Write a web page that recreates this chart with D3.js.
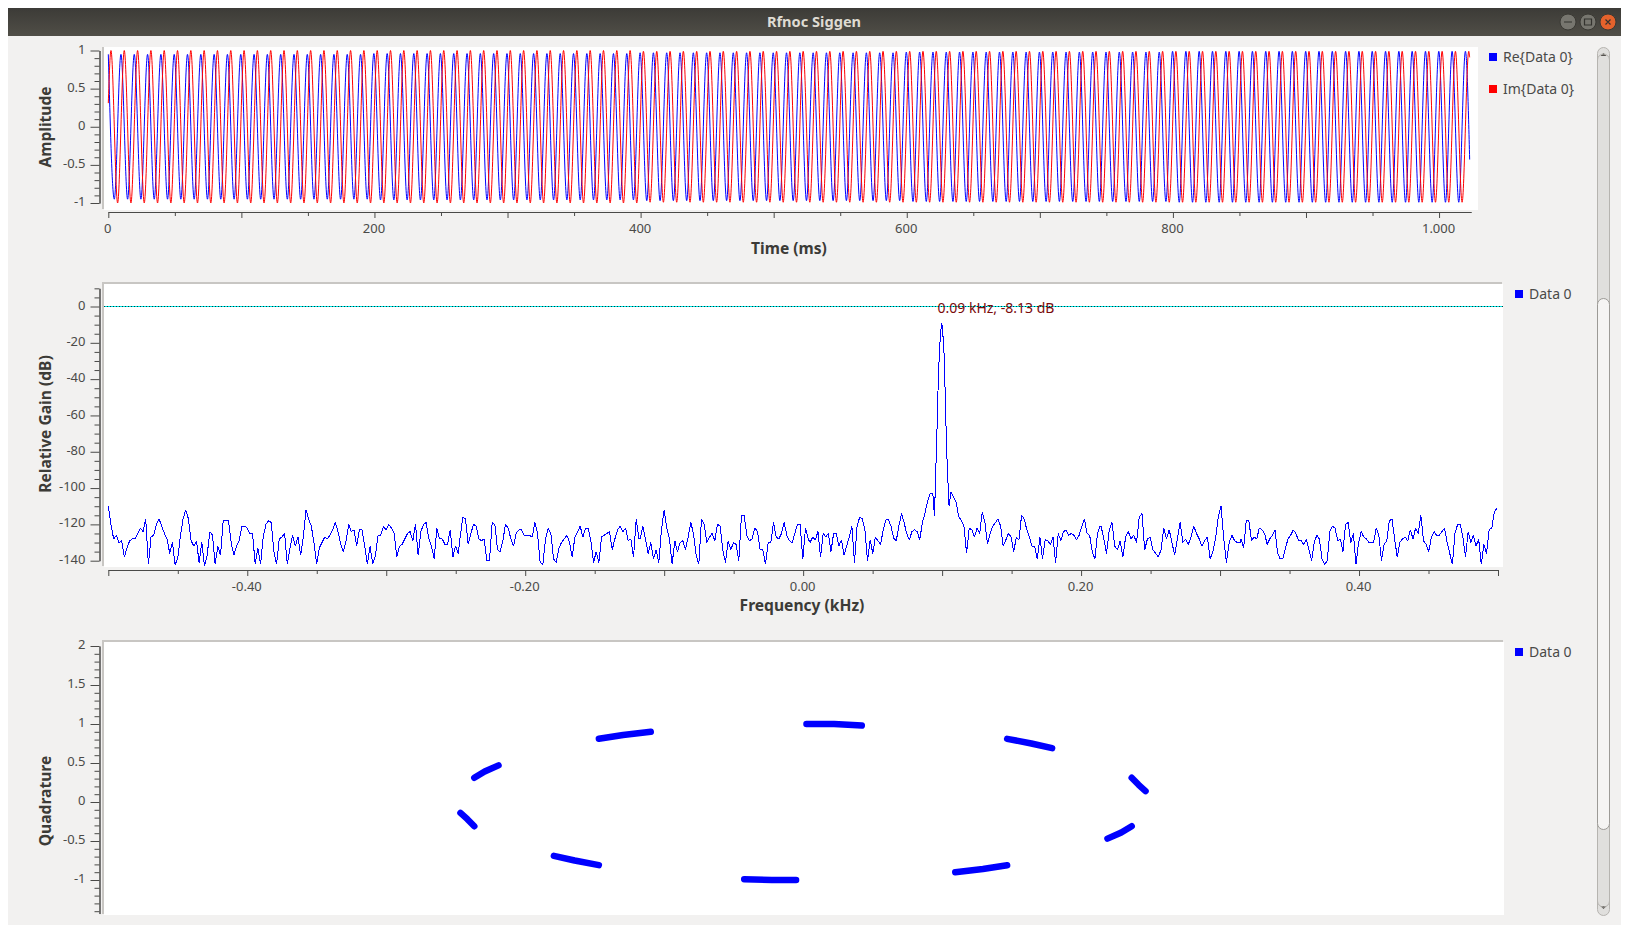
<!DOCTYPE html>
<html><head><meta charset="utf-8">
<script src="https://cdn.jsdelivr.net/npm/d3@7/dist/d3.min.js"></script>
<style>
html,body{margin:0;padding:0;background:#fff;overflow:hidden}
svg{display:block}
text{font-family:"Noto Sans",sans-serif}
.axis text{font-size:13px;fill:#4a4a48;font-family:"Noto Sans",sans-serif}
.axis line,.axis path{stroke:#4a4a48;stroke-width:1}
.title{font-size:15.6px;font-weight:700;fill:#3c3b37}
.leg{font-size:14px;fill:#4a4a48}
</style></head><body>
<script>
// ---- time plot: successive peak / trough values
const timeStepMs = 5.0015, reFirst = -0.5, imFirst = 2;
const reExtrema = [
.95,-.95,.95,-.95,.95,-.95,.95,-.95,.95,-.95,.95,-.95,.95,-.95,.95,-.95,.95,-.95,.95,-.95,.95,-.95,.95,-.95,.95,-.95,.95,-.95,.95,-.95,.95,-.95,.95,-.95,.95,-.95,.95,-.95,.95,-.95,
.96,-.96,.96,-.96,.96,-.96,.96,-.96,.96,-.96,.96,-.96,.96,-.96,.96,-.96,.96,-.96,.96,-.96,.96,-.96,.96,-.96,.96,-.96,.96,-.96,.96,-.96,.96,-.96,.96,-.96,.96,-.96,.96,-.96,.96,-.96,
.97,-.97,.97,-.97,.97,-.97,.97,-.97,.97,-.97,.97,-.97,.97,-.97,.97,-.97,.97,-.97,.97,-.97,.97,-.97,.97,-.97,.97,-.97,.97,-.97,.97,-.97,.97,-.97,.97,-.97,.97,-.97,.97,-.97,.97,-.97,
.98,-.98,.98,-.98,.98,-.98,.98,-.98,.98,-.98,.98,-.98,.98,-.98,.98,-.98,.98,-.98,.98,-.98,.98,-.98,.98,-.98,.98,-.98,.98,-.98,.98,-.98,.98,-.98,.98,-.98,.98,-.98,.98,-.98,.98,-.98,
.99,-.99,.99,-.99,.99,-.99,.99,-.99,.99,-.99,.99,-.99,.99,-.99,.99,-.99,.99,-.99,.99,-.99,.99,-.99,.99,-.99,.99,-.99,.99,-.99,.99,-.99,.99,-.99,.99,-.99,.99,-.99,.99,-.99,.99,-.99,
.99,-.99,.99,-.99,.99];
const imExtrema = [
1,-1,1,-1,1,-1,1,-1,1,-1,1,-1,1,-1,1,-1,1,-1,1,-1,1,-1,1,-1,1,-1,1,-1,1,-1,1,-1,1,-1,1,-1,1,-1,1,-1,
1,-1,1,-1,1,-1,1,-1,1,-1,1,-1,1,-1,1,-1,1,-1,1,-1,1,-1,1,-1,1,-1,1,-1,1,-1,1,-1,1,-1,1,-1,1,-1,1,-1,
.99,-.99,.99,-.99,.99,-.99,.99,-.99,.99,-.99,.99,-.99,.99,-.99,.99,-.99,.99,-.99,.99,-.99,.99,-.99,.99,-.99,.99,-.99,.99,-.99,.99,-.99,.99,-.99,.99,-.99,.99,-.99,.99,-.99,.99,-.99,
.99,-.99,.99,-.99,.99,-.99,.99,-.99,.99,-.99,.99,-.99,.99,-.99,.99,-.99,.99,-.99,.99,-.99,.99,-.99,.99,-.99,.99,-.99,.99,-.99,.99,-.99,.99,-.99,.99,-.99,.99,-.99,.99,-.99,.99,-.99,
.99,-.99,.99,-.99,.99,-.99,.99,-.99,.99,-.99,.99,-.99,.99,-.99,.99,-.99,.99,-.99,.99,-.99,.99,-.99,.99,-.99,.99,-.99,.99,-.99,.99,-.99,.99,-.99,.99,-.99,.99,-.99,.99,-.99,.99,-.99,
.99,-.99,.99,-.99,.99];
const reEnds = {startT:0, endT:1023, endV:-.43};
const imEnds = {startT:0, startV:.31, endT:1023, endV:.91};

// ---- spectrum, in dB, one list per stretch of the frequency axis
const specA = [-110,-120,-128,-126,-130,-129,-138,-133,-129,-128,-128,-125,-122,-124,-117,-142,-127,-126,-120,-117,-121,-125,-128,-136,-130,-142,-139,-126,-117,-112,-117,-129,-132,-129,-141,-130,-143,-137,-124,-126,-142,-132,-137,-118,-118,-118,-130,-137,-132,-129,-121,-121,-122,-125,-125,-142,-133,-142,-127,-120,-118,-119,-135,-142,-128,-127,-125,-142,-133,-126,-132,-127,-137,-127,-112,-117,-121,-130,-142,-133,-130,-127,-128,-126,-123,-119,-124,-131,-135,-129,-120,-124,-123,-132,-123,-123,-132,-142,-132,-142,-137,-126,-126,-121,-123,-120,-122,-125,-138,-132,-131,-128,-125,-124,-129,-120,-137,-124,-120,-119,-128,-132,-139,-122,-128,-128,-131,-131,-123,-138,-132,-136];
const specB = [-127,-116,-117,-131,-125,-120,-121,-128,-129,-128,-140,-140,-119,-120,-134,-135,-129,-120,-122,-128,-132,-125,-123,-123,-126,-126,-126,-127,-119,-125,-141,-142,-128,-122,-125,-139,-141,-133,-130,-128,-126,-130,-138,-127,-124,-121,-127,-122,-122,-129,-141,-135,-141,-127,-126,-125,-124,-134,-128,-123,-121,-124,-122,-129,-128,-138,-117,-128];
const specC = [-128,-121,-128,-136,-130,-139,-134,-141,-123,-112,-122,-128,-142,-129,-135,-130,-129,-134,-127,-119,-125,-137,-142,-117,-120,-130,-127,-125,-129,-120,-121,-134,-141,-129,-134,-130,-131,-140,-115,-115,-126,-129,-128,-122,-124,-134,-134,-142,-130,-130,-119,-127,-128,-125,-119,-126,-129,-130,-125,-120,-120,-139,-122,-128];
const specD = [-130,-127,-128.5,-124,-138,-125,-127,-125,-135,-125,-125,-132,-128.5,-137,-132,-127,-121,-141,-121,-116,-117,-123,-140,-128.5,-136,-127,-129,-131,-123,-117.5,-117.5,-121,-127.5,-129,-121,-114,-119,-125,-128.5,-124,-123,-124,-128.5,-119,-114,-107,-103,-103];
const specPeak = [-115.6,-91.7,-69.7,-44,-25.6,-14.6,-9,-16.4,-27.5,-53.2,-78.9,-95.4,-110];
const specE = [-102,-105,-108,-115.6,-118,-121,-136,-122,-123,-127,-122,-125,-113,-119,-131,-125,-121,-119,-117,-121,-132,-128.5,-125,-127,-135,-127,-128.5,-115,-117,-123,-127,-132,-132,-139,-127,-139,-128.5,-129,-131,-127,-141,-125,-129,-124,-123,-126,-125,-126,-128.5,-126,-121,-117,-125,-126,-135,-139,-125,-121];
const specF = [-121,-128,-136,-123,-119,-132,-134,-129,-138,-127,-124,-128,-126,-130,-116,-114,-134,-128,-127,-134,-136,-138,-134,-122,-128,-123,-130,-137,-128,-119,-130,-128,-131,-127,-121,-125,-128,-132,-129,-127,-139,-135,-128,-116,-110,-128,-141,-130,-126,-129,-130,-130];
const specG = [-128,-133,-118,-118,-129,-127,-128,-122,-123,-125,-131,-128,-126,-123,-136,-139,-139,-133,-128,-126,-123,-125,-129,-129,-131,-128,-134,-140,-130,-126,-128,-139,-142,-140,-124,-121,-122,-129,-128,-135,-120,-119,-130,-125,-142,-130,-124,-127,-128,-130];
const specH = [-130,-130,-122,-126,-140,-131,-129,-118,-117,-128,-138,-130,-128,-127,-129,-123,-128,-122,-125,-115,-129,-131,-135,-127,-124,-126,-126,-124,-122,-130,-136,-142,-125,-120,-120,-127,-138,-124,-130,-126,-132,-128,-142,-131,-136,-123,-122,-113,-111];
const specStretches = [[specA,-.5,-.2482],[specB,-.2468,-.1182],[specC,-.1173,.0036],[specD,.005,.0933],[specPeak,.0945,.105],[specE,.1063,.2137],[specF,.2144,.3144],[specG,.3151,.4072],[specH,.4086,.4993]];
const refLevelDb = 0;
const peakLabel = "0.09 kHz, -8.13 dB";

// ---- constellation: the ten short arcs (in-phase, quadrature)
const arcI = [[.01,.09,.17],[.59,.66,.72],[.95,.97,.99],[.95,.92,.88],[.59,.52,.44],[-.02,-.09,-.17],[-.59,-.66,-.72],[-.95,-.97,-.99],[-.95,-.92,-.88],[-.59,-.52,-.44]];
const arcQ = [[1,1,.98],[.81,.75,.69],[.31,.22,.14],[-.31,-.39,-.47],[-.81,-.86,-.9],[-1,-1,-.99],[-.81,-.75,-.69],[-.31,-.22,-.14],[.31,.39,.47],[.81,.86,.9]];

// ---- ticks and labels
const timeMajor = [0,100,200,300,400,500,600,700,800,900,1000];
const timeLabels = {0:"0",200:"200",400:"400",600:"600",800:"800",1000:"1.000"};
const timeMinor = [50,150,250,350,450,550,650,750,850,950];
const ampMajor = [-1,-.5,0,.5,1];
const ampLabels = ["-1","-0.5","0","0.5","1"];
const ampMinor = [-.9,-.8,-.7,-.6,-.4,-.3,-.2,-.1,.1,.2,.3,.4,.6,.7,.8,.9];
const freqMajor = [-.5,-.4,-.3,-.2,-.1,0,.1,.2,.3,.4,.5];
const freqLabels = {"-0.4":"-0.40","-0.2":"-0.20","0":"0.00","0.2":"0.20","0.4":"0.40"};
const freqMinor = [-.45,-.35,-.25,-.15,-.05,.05,.15,.25,.35,.45];
const dbMajor = [-140,-120,-100,-80,-60,-40,-20,0];
const dbMinor = [-135,-130,-125,-115,-110,-105,-95,-90,-85,-75,-70,-65,-55,-50,-45,-35,-30,-25,-15,-10,-5,5,10];
const quadMajor = [-1,-.5,0,.5,1,1.5,2];
const quadLabels = ["-1","-0.5","0","0.5","1","1.5","2"];
const quadMinor = [-1.4,-1.3,-1.2,-1.1,-.9,-.8,-.7,-.6,-.4,-.3,-.2,-.1,.1,.2,.3,.4,.6,.7,.8,.9,1.1,1.2,1.3,1.4,1.6,1.7,1.8,1.9];

const svg = d3.select("body").append("svg").attr("width",1630).attr("height",935);
const defs = svg.append("defs");
const bar = defs.append("linearGradient").attr("id","bar").attr("x1",0).attr("x2",0).attr("y1",0).attr("y2",1);
bar.append("stop").attr("offset",0).attr("stop-color","#3c3b37");
bar.append("stop").attr("offset",1).attr("stop-color","#504e47");
const rect=(x,y,w,h,f)=>svg.append("rect").attr("x",x).attr("y",y).attr("width",w).attr("height",h).attr("fill",f);

// window
rect(8,8,1613,917,"#f2f1f0");
rect(8,8,1613,28,"url(#bar)");
svg.append("text").attr("x",814).attr("y",26.5).attr("text-anchor","middle").attr("font-size",14.6).attr("font-weight",700).attr("fill","#dfdbd2").text("Rfnoc Siggen");
[[1568,"#77766f"],[1588,"#77766f"],[1608,"#e4622c"]].forEach(([x,c])=>svg.append("circle").attr("cx",x).attr("cy",22).attr("r",8).attr("fill",c).attr("stroke","#3a3934"));
svg.append("path").attr("d","M1564 22h8M1584.5 19h7v6h-7zM1605.5 19.5l5 5m0-5l-5 5").attr("fill","none").attr("stroke","#33322e").attr("stroke-width",1.2);

// scrollbar
svg.append("rect").attr("x",1597.5).attr("y",47.5).attr("width",12).attr("height",868).attr("rx",6).attr("fill","#e0dfdd").attr("stroke","#b6b4b0");
svg.append("rect").attr("x",1597.5).attr("y",298.5).attr("width",12).attr("height",531).attr("rx",6).attr("fill","#f5f4f3").attr("stroke","#9c9a96");
svg.append("path").attr("d","M1600.5 56l3-3 3 3z").attr("fill","#55534f");
svg.append("path").attr("d","M1600.5 906l3 3 3-3z").attr("fill","#55534f");
svg.append("path").attr("d","M1597.5 60a6 6 0 0 1 12 0M1597.5 901a6 6 0 0 0 12 0").attr("fill","none").attr("stroke","#b6b4b0");

function frame(x0,y0,x1,y1,top){
  rect(x0,y0,x1-x0,y1-y0,"#fff");
  rect(x0-2,y0-(top?2:0),2,y1-y0+(top?2:0)-1,"#c8c6c3");
  if(top) rect(x0-2,y0-2,x1-x0+1,2,"#c8c6c3");
}
function yAxis(scale,major,minor,fmt){
  const g=svg.append("g").attr("class","axis").attr("transform","translate(99.5,0)");
  g.append("g").call(d3.axisLeft(scale).tickValues(minor).tickSize(5).tickSizeOuter(0).tickFormat(""));
  g.append("g").call(d3.axisLeft(scale).tickValues(major).tickSize(9).tickSizeOuter(0).tickPadding(5).tickFormat(fmt)).selectAll("text").attr("dy","0.2em");
}
function xAxis(scale,y,major,minor,fmt){
  const g=svg.append("g").attr("class","axis").attr("transform",`translate(0,${y})`);
  g.append("g").call(d3.axisBottom(scale).tickValues(minor).tickSize(4).tickSizeOuter(0).tickFormat(""));
  g.append("g").call(d3.axisBottom(scale).tickValues(major).tickSize(6).tickSizeOuter(0).tickPadding(6).tickFormat(fmt)).selectAll("text").attr("dx","-1");
}
function legend(x,y,color,label){
  rect(x,y,8,8,color);
  svg.append("text").attr("class","leg").attr("x",x+14).attr("y",y+9).text(label);
}
function yTitle(cy,t){svg.append("text").attr("class","title").attr("text-anchor","middle").attr("transform",`translate(51,${cy}) rotate(-90)`).text(t);}
function xTitle(cx,y,t){svg.append("text").attr("class","title").attr("text-anchor","middle").attr("x",cx).attr("y",y).text(t);}

// ---- plot 1
frame(104,47,1478,210,false);
const xT=d3.scaleLinear().domain([0,1024]).range([108.3,1471]);
const yA=d3.scaleLinear().domain([-1,1]).range([203,50.5]);
yAxis(yA,ampMajor,ampMinor,(d,i)=>ampLabels[i]);
xAxis(xT,212,timeMajor,timeMinor,d=>timeLabels[d]||"");
const lineT=d3.line().x(d=>xT(d[0])).y(d=>yA(d[1])).curve(d3.curveMonotoneX);
const rePts=reExtrema.map((v,k)=>[k===0?reEnds.startT:reFirst+k*timeStepMs,v]).concat([[reEnds.endT,reEnds.endV]]);
const imPts=[[imEnds.startT,imEnds.startV]].concat(imExtrema.map((v,k)=>[imFirst+k*timeStepMs,v])).concat([[imEnds.endT,imEnds.endV]]);
svg.append("path").attr("d",lineT(rePts)).attr("fill","none").attr("stroke","#0000ff").attr("stroke-width",1);
svg.append("path").attr("d",lineT(imPts)).attr("fill","none").attr("stroke","#ff0000").attr("stroke-width",1);
legend(1489,53,"#0000ff","Re{Data 0}");
legend(1489,85,"#ff0000","Im{Data 0}");
yTitle(127,"Amplitude");
xTitle(789,254,"Time (ms)");

// ---- plot 2
frame(104,284,1503,567,true);
const xF=d3.scaleLinear().domain([-.5,.5]).range([108.3,1498]);
const yD=d3.scaleLinear().domain([-140,0]).range([560.7,306.5]);
yAxis(yD.copy().domain([-140,10]).range([560.7,yD(10)]),dbMajor,dbMinor,d=>d);
xAxis(xF,570,freqMajor,freqMinor,d=>freqLabels[String(d)]||"");
svg.append("line").attr("x1",104).attr("x2",1503).attr("y1",yD(refLevelDb)).attr("y2",yD(refLevelDb)).attr("stroke","#00e5e5").attr("stroke-width",1).attr("shape-rendering","crispEdges");
svg.append("line").attr("x1",104).attr("x2",1503).attr("y1",yD(refLevelDb)).attr("y2",yD(refLevelDb)).attr("stroke","#004040").attr("stroke-width",1).attr("stroke-dasharray","1 2").attr("shape-rendering","crispEdges");
const specPts=specStretches.flatMap(([vals,a,b])=>{const s=d3.scaleLinear().domain([0,vals.length-1]).range([a,b]);return vals.map((v,i)=>[s(i),v]);});
svg.append("path").attr("d",d3.line().x(d=>xF(d[0])).y(d=>yD(d[1]))(specPts)).attr("fill","none").attr("stroke","#0000ff").attr("stroke-width",1).attr("stroke-linejoin","bevel").attr("shape-rendering","crispEdges");
svg.append("text").attr("x",937.5).attr("y",312.5).attr("font-size",14).attr("fill","#7a0a0a").text(peakLabel);
legend(1515,290,"#0000ff","Data 0");
yTitle(424,"Relative Gain (dB)");
xTitle(802,611,"Frequency (kHz)");

// ---- plot 3
frame(104,642,1504,915,true);
const xI=d3.scaleLinear().domain([-1,1]).range([457,1149]);
const yQ=d3.scaleLinear().domain([-1,1]).range([880,724]);
const yQa=yQ.copy().domain([-1.43,2]).range([yQ(-1.43),yQ(2)]);
yAxis(yQa,quadMajor,quadMinor,(d,i)=>quadLabels[i]);
const lineC=d3.line().x(d=>xI(d[0])).y(d=>yQ(d[1]));
arcI.forEach((a,i)=>svg.append("path").attr("d",lineC(a.map((v,j)=>[v,arcQ[i][j]]))).attr("fill","none").attr("stroke","#0000ff").attr("stroke-width",6.5).attr("stroke-linecap","round").attr("stroke-linejoin","round"));
legend(1515,648,"#0000ff","Data 0");
yTitle(801,"Quadrature");
</script></body></html>
